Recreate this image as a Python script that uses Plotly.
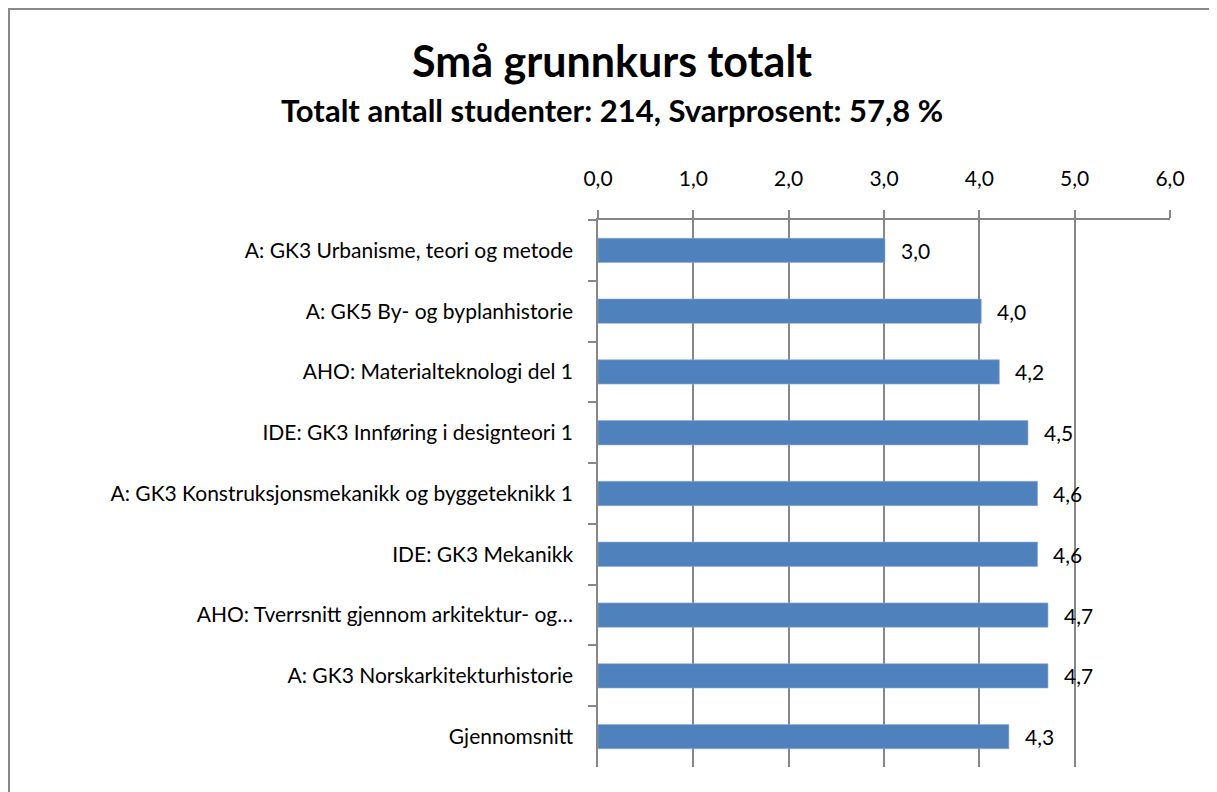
import plotly.graph_objects as go

categories = [
    "A: GK3 Urbanisme, teori og metode",
    "A: GK5 By- og byplanhistorie",
    "AHO: Materialteknologi del 1",
    "IDE: GK3 Innføring i designteori 1",
    "A: GK3 Konstruksjonsmekanikk og byggeteknikk 1",
    "IDE: GK3 Mekanikk",
    "AHO: Tverrsnitt gjennom arkitektur- og…",
    "A: GK3 Norskarkitekturhistorie",
    "Gjennomsnitt",
]
values = [3.01, 4.02, 4.21, 4.51, 4.61, 4.61, 4.72, 4.72, 4.31]
tick_vals = [0, 1, 2, 3, 4, 5, 6]
tick_text = ["0,0", "1,0", "2,0", "3,0", "4,0", "5,0", "6,0"]
title_text = "Små grunnkurs totalt"
subtitle_text = "Totalt antall studenter: 214, Svarprosent: 57,8 %"

FONT = "Lato"
GRID = "#878787"
W, H = 1217, 792
OFF = 8  # page body margin

# plot-area geometry in figure pixels
L, R, T, B = 598 - OFF, 1170 - OFF, 220 - OFF, 767 - OFF
PW, PH = R - L, B - T


def px_x(px):
    return (px - OFF - L) / PW


def px_y(py):
    return (B - (py - OFF)) / PH


fig = go.Figure()
fig.add_trace(go.Bar(
    x=values, y=categories, orientation="h",
    marker=dict(color="#4F81BD", line=dict(color="#8EAAD6", width=0.6)),
    width=0.4,
    hoverinfo="x+y",
))

for c, v in zip(categories, values):
    fig.add_annotation(
        x=v, y=c, xref="x", yref="y",
        text=f"{v:.1f}".replace(".", ","),
        showarrow=False, xanchor="left", yanchor="middle",
        xshift=14, font=dict(family=FONT, size=21, color="#000000"),
    )

fig.add_annotation(
    x=px_x(612), y=px_y(60), xref="paper", yref="paper",
    text=f"<b>{title_text}</b>", showarrow=False,
    xanchor="center", yanchor="middle",
    font=dict(family=FONT, size=43, color="#000000"),
)
fig.add_annotation(
    x=px_x(612), y=px_y(110), xref="paper", yref="paper",
    text=f"<b>{subtitle_text}</b>", showarrow=False,
    xanchor="center", yanchor="middle",
    font=dict(family=FONT, size=31, color="#000000"),
)

# outer chart frame
fig.add_shape(
    type="rect", xref="paper", yref="paper",
    x0=px_x(9), x1=px_x(1240),
    y0=px_y(820), y1=px_y(9),
    line=dict(color="#888888", width=2), fillcolor="rgba(0,0,0,0)",
    layer="below",
)

fig.update_layout(
    width=W, height=H,
    margin=dict(l=L, r=W - R, t=T, b=H - B),
    paper_bgcolor="white", plot_bgcolor="white",
    showlegend=False,
    font=dict(family=FONT, size=21, color="#000000"),
    xaxis=dict(
        side="top", range=[0, 6], tickvals=tick_vals, ticktext=tick_text,
        showgrid=True, gridcolor=GRID, gridwidth=1.5,
        showline=True, linecolor=GRID, linewidth=1.5,
        ticks="outside", ticklen=8, tickcolor=GRID, tickwidth=1.5,
        ticklabelstandoff=16, zeroline=False,
        tickfont=dict(family=FONT, size=21, color="#000000"),
        fixedrange=True,
    ),
    yaxis=dict(
        categoryorder="array", categoryarray=categories,
        autorange="reversed",
        showline=True, linecolor=GRID, linewidth=1.5,
        ticks="outside", ticklen=8, tickcolor=GRID, tickwidth=1.5,
        tickson="boundaries", showgrid=False,
        ticklabelstandoff=19,
        tickfont=dict(family=FONT, size=21, color="#000000"),
        fixedrange=True,
    ),
)

fig.write_html("out.html")
